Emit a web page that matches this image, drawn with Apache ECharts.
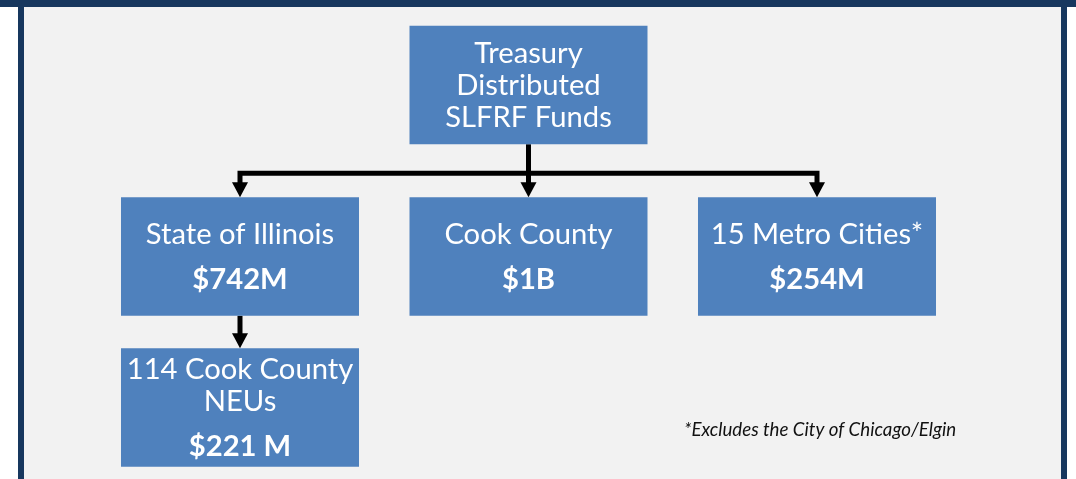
<!DOCTYPE html>
<html>
<head>
<meta charset="utf-8">
<script src="https://cdn.jsdelivr.net/npm/echarts@6/dist/echarts.min.js"></script>
<style>
html,body{margin:0;padding:0;background:#ffffff;}
#chart{width:1076px;height:479px;}
</style>
</head>
<body>
<div id="chart"></div>
<script>
// ---- DATA ----
const columns = ['left', 'middle', 'right'];
const nodeTitles = ['Treasury\nDistributed\nSLFRF Funds', 'State of Illinois', 'Cook County', '15 Metro Cities*', '114 Cook County\nNEUs'];
const nodeAmounts = ['', '$742M', '$1B', '$254M', '$221 M'];
const nodeParents = [-1, 0, 0, 0, 1];
const nodeColumns = [1, 0, 1, 2, 0];
const nodeLevels = [0, 1, 1, 1, 2];
const footnote = '*Excludes the City of Chicago/Elgin';

// ---- LAYOUT / STYLE ----
const LAYOUT = {
  levelCenter: [85, 256.5, 407.5],
  boxWidthRatio: 0.825,
  boxHeight: 118.5,
  titleLineGap: 32,
  amountGap: 45,
  busOffset: 24,
  arrowW: 16,
  arrowH: 15,
  lineWidth: 5
};
const BOX_COLOR = '#4f81bd';
const NAVY = '#17375e';
const FONT = 'Lato, "Noto Sans", sans-serif';
const BOX_FONT_SIZE = 29.2;

const nodeData = nodeTitles.map((t, i) => [nodeColumns[i], LAYOUT.levelCenter[nodeLevels[i]], i]);

// groups: parent -> children
const groups = [];
nodeParents.forEach((p, i) => {
  if (p < 0) return;
  let g = groups.find(g => g.parent === p);
  if (!g) { g = { parent: p, children: [] }; groups.push(g); }
  g.children.push(i);
});
const edgeData = groups.map((g, k) => [nodeColumns[g.parent], LAYOUT.levelCenter[nodeLevels[g.parent]], k]);

function renderNode(params, api) {
  const idx = api.value(2);
  const c = api.coord([api.value(0), api.value(1)]);
  const bw = api.size([1, 0])[0] * LAYOUT.boxWidthRatio;
  const bh = api.size([0, LAYOUT.boxHeight])[1];
  const children = [{
    type: 'rect',
    shape: { x: c[0] - bw / 2, y: c[1] - bh / 2, width: bw, height: bh },
    style: { fill: BOX_COLOR }
  }];
  const lines = nodeTitles[idx].split('\n');
  const amount = nodeAmounts[idx];
  const span = (lines.length - 1) * LAYOUT.titleLineGap + (amount ? LAYOUT.amountGap : 0);
  const first = c[1] - span / 2 + (amount ? 0.5 : 0.5);
  lines.forEach((ln, j) => {
    children.push({
      type: 'text',
      style: {
        text: ln, x: c[0], y: first + j * LAYOUT.titleLineGap,
        fill: '#ffffff', fontSize: BOX_FONT_SIZE, fontFamily: FONT, fontWeight: 'normal',
        align: 'center', verticalAlign: 'middle'
      }
    });
  });
  if (amount) {
    children.push({
      type: 'text',
      style: {
        text: amount, x: c[0], y: first + (lines.length - 1) * LAYOUT.titleLineGap + LAYOUT.amountGap,
        fill: '#ffffff', fontSize: BOX_FONT_SIZE, fontFamily: FONT, fontWeight: 'bold',
        align: 'center', verticalAlign: 'middle'
      }
    });
  }
  return { type: 'group', children: children };
}

function arrowHead(x, yTip) {
  return {
    type: 'polygon',
    shape: { points: [[x - LAYOUT.arrowW / 2, yTip - LAYOUT.arrowH], [x + LAYOUT.arrowW / 2, yTip - LAYOUT.arrowH], [x, yTip]] },
    style: { fill: '#000000' }
  };
}

function renderEdges(params, api) {
  const g = groups[api.value(2)];
  const bh = api.size([0, LAYOUT.boxHeight])[1];
  const pc = api.coord([nodeColumns[g.parent], LAYOUT.levelCenter[nodeLevels[g.parent]]]);
  const pBottom = pc[1] + bh / 2;
  const kids = g.children.map(ch => {
    const cc = api.coord([nodeColumns[ch], LAYOUT.levelCenter[nodeLevels[ch]]]);
    return [cc[0], cc[1] - bh / 2];
  });
  const out = [];
  const lineStyle = { stroke: '#000000', lineWidth: LAYOUT.lineWidth, fill: null, lineJoin: 'miter', lineCap: 'butt' };
  if (kids.length === 1) {
    const k = kids[0];
    out.push({ type: 'line', shape: { x1: pc[0], y1: pBottom, x2: k[0], y2: k[1] - LAYOUT.arrowH + 1 }, style: lineStyle });
    out.push(arrowHead(k[0], k[1]));
  } else {
    const top = Math.min.apply(null, kids.map(k => k[1]));
    const busY = top - LAYOUT.busOffset;
    const xs = kids.map(k => k[0]);
    const minX = Math.min.apply(null, xs), maxX = Math.max.apply(null, xs);
    const leftK = kids[xs.indexOf(minX)], rightK = kids[xs.indexOf(maxX)];
    out.push({ type: 'polyline', shape: { points: [[minX, leftK[1] - LAYOUT.arrowH + 1], [minX, busY], [maxX, busY], [maxX, rightK[1] - LAYOUT.arrowH + 1]] }, style: lineStyle });
    out.push({ type: 'line', shape: { x1: pc[0], y1: pBottom, x2: pc[0], y2: busY }, style: lineStyle });
    kids.forEach(k => {
      if (k[0] !== minX && k[0] !== maxX) {
        out.push({ type: 'line', shape: { x1: k[0], y1: busY, x2: k[0], y2: k[1] - LAYOUT.arrowH + 1 }, style: lineStyle });
      }
      out.push(arrowHead(k[0], k[1]));
    });
  }
  return { type: 'group', children: out };
}

const chart = echarts.init(document.getElementById('chart'), null, { renderer: 'canvas' });
chart.setOption({
  backgroundColor: 'transparent',
  animation: false,
  graphic: [
    { type: 'rect', z: -10, shape: { x: 24, y: 7, width: 1037, height: 472 }, style: { fill: '#f2f2f2' } },
    { type: 'rect', z: -9, shape: { x: 0, y: 0, width: 1076, height: 7 }, style: { fill: NAVY } },
    { type: 'rect', z: -9, shape: { x: 18, y: 0, width: 6, height: 479 }, style: { fill: NAVY } },
    { type: 'rect', z: -9, shape: { x: 1061, y: 0, width: 6, height: 479 }, style: { fill: NAVY } }
  ],
  title: {
    text: footnote,
    left: 684, top: 420,
    padding: 0,
    textStyle: { fontFamily: FONT, fontSize: 18.7, fontStyle: 'italic', fontWeight: 'normal', color: '#111111' }
  },
  grid: { left: 95.75, width: 865.5, top: 0, height: 479 },
  xAxis: { type: 'category', data: columns, show: false, boundaryGap: true },
  yAxis: { type: 'value', min: 0, max: 479, inverse: true, show: false },
  series: [
    { type: 'custom', name: 'edges', renderItem: renderEdges, data: edgeData, z: 2, silent: true },
    { type: 'custom', name: 'nodes', renderItem: renderNode, data: nodeData, z: 3, silent: true }
  ]
});
</script>
</body>
</html>
